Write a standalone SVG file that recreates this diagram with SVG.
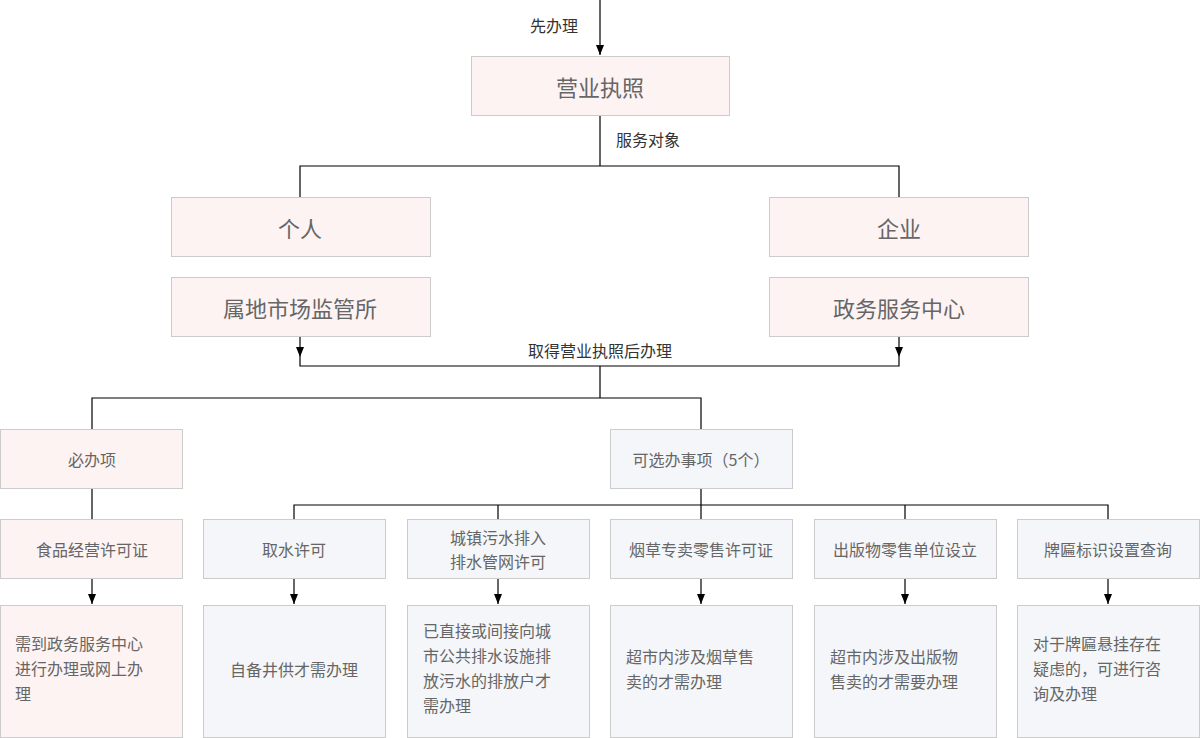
<svg xmlns="http://www.w3.org/2000/svg" width="1200" height="738" viewBox="0 0 1200 738">
<style>
.p{fill:#fdf3f3;stroke:#ccc;stroke-width:1}
.b{fill:#f4f6f9;stroke:#ccc;stroke-width:1}
text{font-family:"Noto Sans CJK SC","Liberation Sans",sans-serif;fill:#666;font-size:16px}
.big{font-size:22px;text-anchor:middle;dominant-baseline:central}
.m{text-anchor:middle;dominant-baseline:central}
.l{fill:#333;font-size:16px}
.c{fill:none;stroke:#000;stroke-width:1.2}
</style>
<defs><marker id="a" markerWidth="10" markerHeight="8" refX="10" refY="4" orient="auto" markerUnits="userSpaceOnUse"><path d="M0,0L10,4L0,8z" fill="#000"/></marker></defs>
<rect width="1200" height="738" fill="#fff"/>
<g id="connectors">
<path class="c" d="M600,0V55" marker-end="url(#a)"/>
<path class="c" d="M600,115V166M300,197V166H899V197"/>
<path class="c" d="M300,336V357" marker-end="url(#a)"/>
<path class="c" d="M899,336V357" marker-end="url(#a)"/>
<path class="c" d="M300,357V366H899V357M600,366V398M92,429V398H701V429"/>
<path class="c" d="M92,488V519M701,488V505M294,519V505H1108V519M498,505V519M701,505V519M905,505V519"/>
<path class="c" d="M92,578V604" marker-end="url(#a)"/>
<path class="c" d="M294,578V604" marker-end="url(#a)"/>
<path class="c" d="M498,578V604" marker-end="url(#a)"/>
<path class="c" d="M701,578V604" marker-end="url(#a)"/>
<path class="c" d="M905,578V604" marker-end="url(#a)"/>
<path class="c" d="M1108,578V604" marker-end="url(#a)"/>
<text class="l" x="530" y="32">先办理</text>
<text class="l" x="616" y="146">服务对象</text>
<text class="l" x="600" y="357" text-anchor="middle">取得营业执照后办理</text>
</g>
<g id="n1"><rect class="p" x="471.5" y="56.5" width="258" height="59"/><text class="big" x="600" y="86">营业执照</text></g>
<g id="n2"><rect class="p" x="171.5" y="197.5" width="259" height="59"/><text class="big" x="300" y="227">个人</text></g>
<g id="n3"><rect class="p" x="769.5" y="197.5" width="259" height="59"/><text class="big" x="899" y="227">企业</text></g>
<g id="n4"><rect class="p" x="171.5" y="277.5" width="259" height="59"/><text class="big" x="300" y="307">属地市场监管所</text></g>
<g id="n5"><rect class="p" x="769.5" y="277.5" width="259" height="59"/><text class="big" x="899" y="307">政务服务中心</text></g>
<g id="n6"><rect class="p" x="0.5" y="429.5" width="182" height="59"/><text class="m" x="92" y="459">必办项</text></g>
<g id="n7"><rect class="b" x="610.5" y="429.5" width="182" height="59"/><text class="m" x="701" y="459">可选办事项（5个）</text></g>
<g id="n8"><rect class="p" x="0.5" y="519.5" width="182" height="59"/><text class="m" x="92" y="549">食品经营许可证</text></g>
<g id="n9"><rect class="b" x="203.5" y="519.5" width="182" height="59"/><text class="m" x="294" y="549">取水许可</text></g>
<g id="n10"><rect class="b" x="407.5" y="519.5" width="182" height="59"/><text class="m" x="498" y="537">城镇污水排入</text><text class="m" x="498" y="561">排水管网许可</text></g>
<g id="n11"><rect class="b" x="610.5" y="519.5" width="182" height="59"/><text class="m" x="701" y="549">烟草专卖零售许可证</text></g>
<g id="n12"><rect class="b" x="814.5" y="519.5" width="182" height="59"/><text class="m" x="905" y="549">出版物零售单位设立</text></g>
<g id="n13"><rect class="b" x="1017.5" y="519.5" width="182" height="59"/><text class="m" x="1108" y="549">牌匾标识设置查询</text></g>
<g id="n14"><rect class="p" x="0.5" y="605.5" width="182" height="132"/><text x="15" y="650">需到政务服务中心</text><text x="15" y="675">进行办理或网上办</text><text x="15" y="700">理</text></g>
<g id="n15"><rect class="b" x="203.5" y="605.5" width="182" height="132"/><text class="m" x="294" y="669">自备井供才需办理</text></g>
<g id="n16"><rect class="b" x="407.5" y="605.5" width="182" height="132"/><text x="423" y="637">已直接或间接向城</text><text x="423" y="662">市公共排水设施排</text><text x="423" y="687">放污水的排放户才</text><text x="423" y="712">需办理</text></g>
<g id="n17"><rect class="b" x="610.5" y="605.5" width="182" height="132"/><text x="626" y="663">超市内涉及烟草售</text><text x="626" y="688">卖的才需办理</text></g>
<g id="n18"><rect class="b" x="814.5" y="605.5" width="182" height="132"/><text x="830" y="663">超市内涉及出版物</text><text x="830" y="688">售卖的才需要办理</text></g>
<g id="n19"><rect class="b" x="1017.5" y="605.5" width="182" height="132"/><text x="1033" y="650">对于牌匾悬挂存在</text><text x="1033" y="675">疑虑的，可进行咨</text><text x="1033" y="700">询及办理</text></g>
</svg>
